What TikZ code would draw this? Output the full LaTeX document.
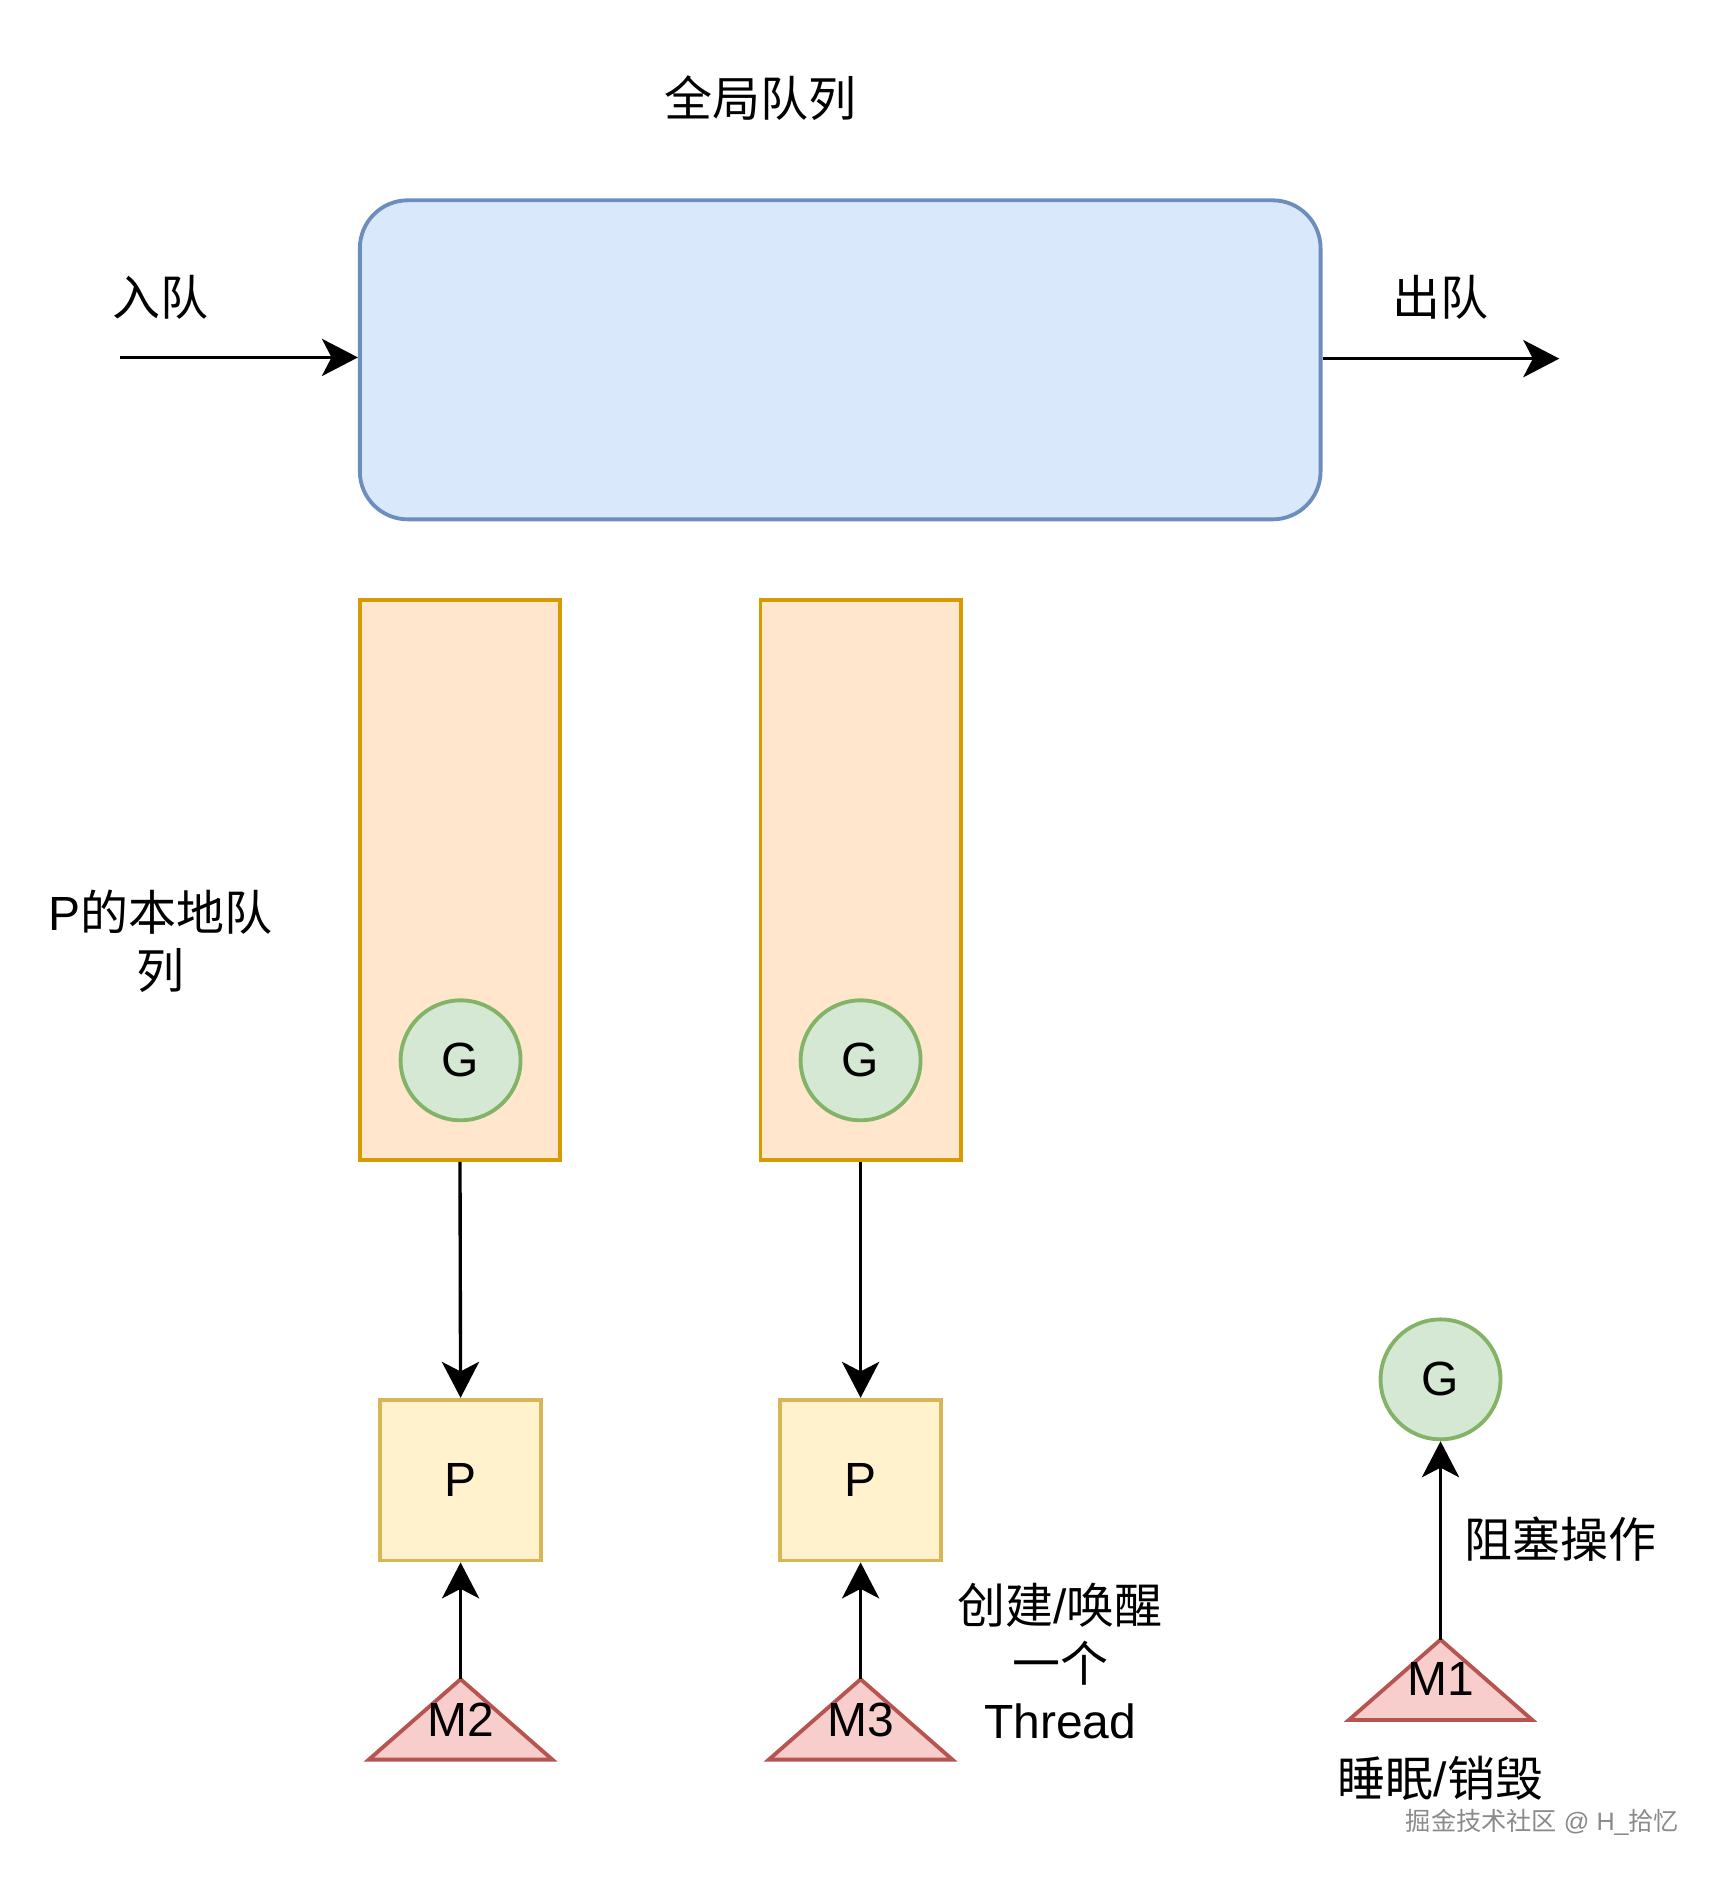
\documentclass[tikz,border=0pt]{standalone}
\usepackage{fontspec}
\setmainfont{Liberation Sans}
\newfontfamily\cn{Noto Sans CJK SC}
\usetikzlibrary{arrows.meta}
\definecolor{bluefill}{HTML}{DAE8FC}
\definecolor{bluedraw}{HTML}{6C8EBF}
\definecolor{orfill}{HTML}{FFE6CC}
\definecolor{ordraw}{HTML}{D79B00}
\definecolor{grfill}{HTML}{D5E8D4}
\definecolor{grdraw}{HTML}{82B366}
\definecolor{yefill}{HTML}{FFF2CC}
\definecolor{yedraw}{HTML}{D6B656}
\definecolor{rdfill}{HTML}{F8CECC}
\definecolor{rddraw}{HTML}{B85450}
\definecolor{wmgray}{HTML}{8A8A8A}
\begin{document}
\begin{tikzpicture}[x=0.5pt,y=-0.5pt,
  lbl/.style={font=\fontsize{20pt}{24pt}\selectfont, align=center, inner sep=0pt},
  conn/.style={-{Stealth[length=15pt,width=15.5pt,inset=4pt]}, line width=1.4pt},
  globalq/.style={draw=bluedraw, fill=bluefill, line width=1.6pt, rounded corners=20pt,
    minimum width=400.5pt, minimum height=133pt, inner sep=0pt},
  localq/.style={draw=ordraw, fill=orfill, line width=1.6pt,
    minimum width=83.5pt, minimum height=233.5pt, inner sep=0pt},
  gnode/.style={circle, draw=grdraw, fill=grfill, line width=1.6pt, minimum size=50pt,
    inner sep=0pt, font=\fontsize{20pt}{24pt}\selectfont},
  pnode/.style={draw=yedraw, fill=yefill, line width=1.6pt, minimum size=67pt,
    inner sep=0pt, font=\fontsize{20pt}{24pt}\selectfont},
  mtri/.style={draw=rddraw, fill=rdfill, line width=1.6pt, line join=miter}
]
\useasboundingbox (0,0) rectangle (1434,1567.4);

% global queue
\node[globalq] (gq) at (700.5,300) {};
\node[lbl] (title) at (634,82) {\cn 全局队列};
\coordinate (inS) at (100,298);
\coordinate (outE) at (1300,299);
\node[lbl] (inL) at (134,248) {\cn 入队};
\node[lbl] (outL) at (1201,248) {\cn 出队};
\draw[conn] (inS) -- (gq.west |- inS);
\draw[conn] (gq.east |- outE) -- (outE);

% local queues
\node[localq] (lq1) at (383.5,733.5) {};
\node[localq] (lq2) at (717.5,733.5) {};
\node[gnode] (g1) at (384,884) {G};
\node[gnode] (g2) at (717.5,884) {G};
\node[lbl] (lqL) at (134,785) {P{\cn 的本地队}\\{\cn 列}};

% P nodes
\node[pnode] (p1) at (384,1234) {P};
\node[pnode] (p2) at (717.5,1234) {P};
\draw[conn] (lq1.south) -- (p1.north);
\draw[conn] (lq2.south) -- (p2.north);

% M triangles
\draw[mtri] (384,1400) -- (460.5,1467) -- (307.5,1467) -- cycle;
\draw[mtri] (717.5,1400) -- (794,1467) -- (641,1467) -- cycle;
\draw[mtri] (1201,1367) -- (1277.5,1434) -- (1124.5,1434) -- cycle;
\coordinate (m2top) at (384,1400);
\coordinate (m3top) at (717.5,1400);
\coordinate (m1top) at (1201,1367);
\node[lbl] (m2) at (384,1434) {M2};
\node[lbl] (m3) at (717.5,1434) {M3};
\node[lbl] (m1) at (1201,1400) {M1};
\draw[conn] (m2top) -- (p1.south);
\draw[conn] (m3top) -- (p2.south);

% blocked G
\node[gnode] (g3) at (1201,1150) {G};
\draw[conn] (m1top) -- (g3.south);

% labels
\node[lbl] (blockL) at (1301,1283) {\cn 阻塞操作};
\node[lbl] (createL) at (884,1385) {{\cn 创建}/{\cn 唤醒}\\{\cn 一个}\\Thread};
\node[lbl] (sleepL) at (1201,1483) {{\cn 睡眠}/{\cn 销毁}};
\node[inner sep=0pt, text=wmgray, font=\fontsize{10.5pt}{12pt}\selectfont] (wm) at (1286,1519)
  {{\cn 掘金技术社区} @ H\_{\cn 拾忆}};
\end{tikzpicture}
\end{document}
